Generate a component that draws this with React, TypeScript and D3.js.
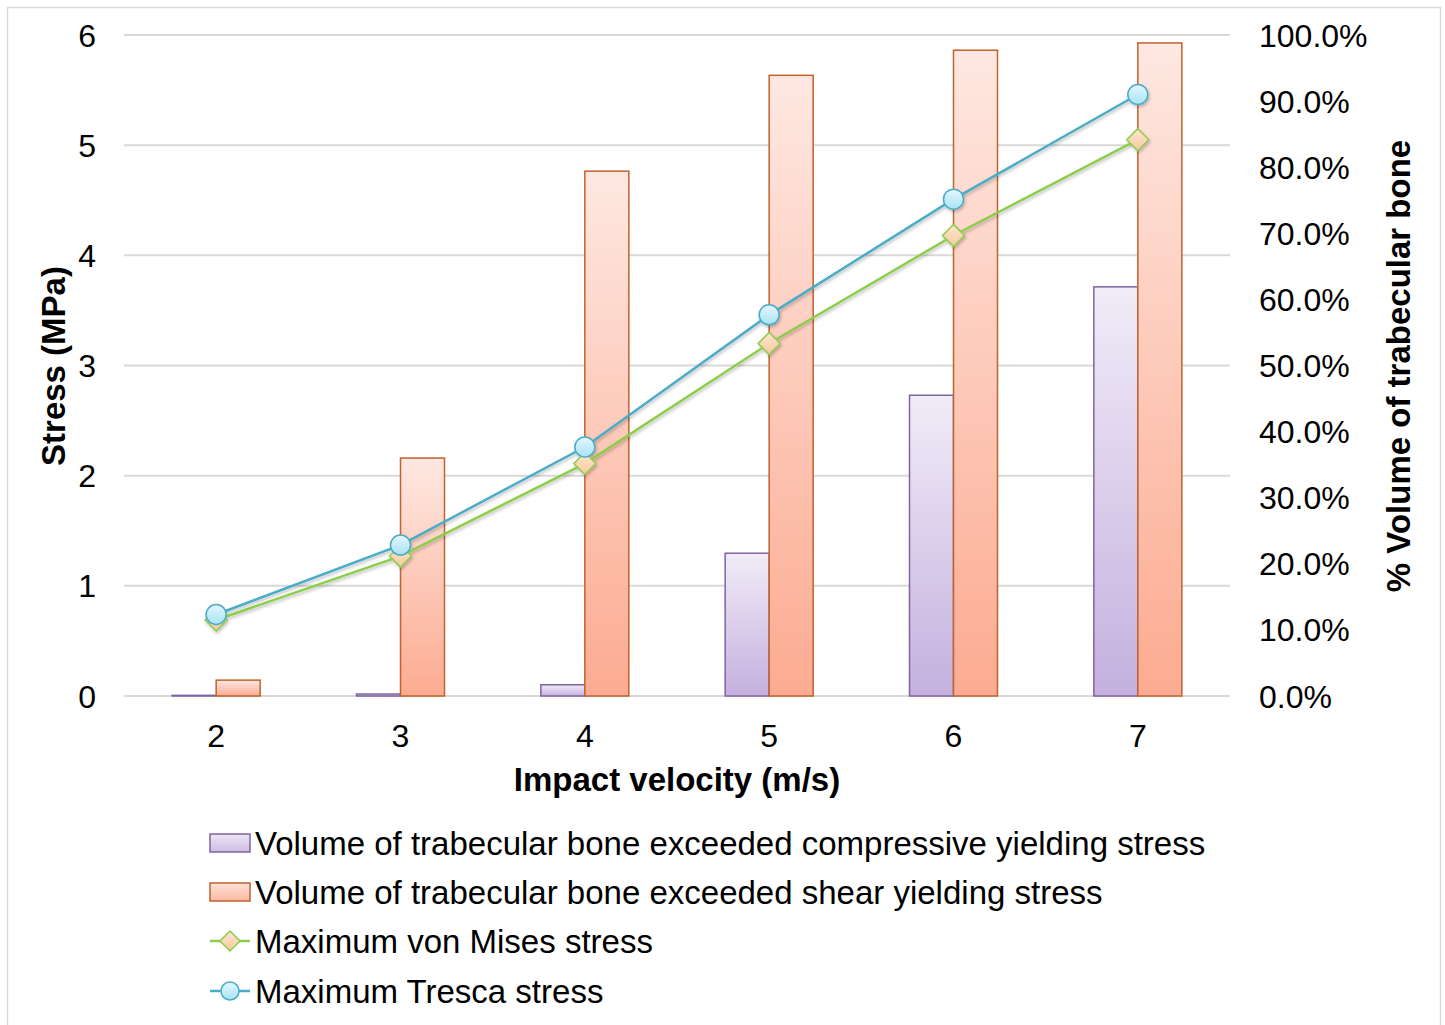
import React from "react";
import * as d3 from "d3";

const categories = ["2", "3", "4", "5", "6", "7"];
const compressivePct = [0.1, 0.3, 1.7, 21.6, 45.5, 61.9];
const shearPct = [2.4, 36.0, 79.4, 93.9, 97.7, 98.8];
const vonMises = [0.69, 1.27, 2.11, 3.2, 4.18, 5.05];
const tresca = [0.74, 1.37, 2.26, 3.46, 4.51, 5.46];
const leftTicks = [0, 1, 2, 3, 4, 5, 6];
const rightTicks = [0, 10, 20, 30, 40, 50, 60, 70, 80, 90, 100];
const legendLabels = [
  "Volume of trabecular bone exceeded compressive yielding stress",
  "Volume of trabecular bone exceeded shear yielding stress",
  "Maximum von Mises stress",
  "Maximum Tresca stress",
];

const FONT = "'Liberation Sans', Arial, sans-serif";

export default function App() {
  const left = 124;
  const right = 1230;
  const top = 35;
  const bottom = 696;

  const x = d3.scaleBand().domain(categories).range([left, right]).paddingInner(0).paddingOuter(0);
  const yL = d3.scaleLinear().domain([0, 6]).range([bottom, top]);
  const yR = d3.scaleLinear().domain([0, 100]).range([bottom, top]);
  const barW = 44;
  const cx = (c: string) => (x(c) as number) + x.bandwidth() / 2;

  const line = d3
    .line<number>()
    .x((_, i) => cx(categories[i]))
    .y((d) => yL(d));

  const diamond = (px: number, py: number, r: number) =>
    `M${px},${py - r}L${px + r},${py}L${px},${py + r}L${px - r},${py}Z`;

  const legendY = [843, 892, 941, 991];

  return (
    <svg
      width={1445}
      height={1025}
      style={{ position: "absolute", left: 0, top: 0, background: "#fff" }}
      fontFamily={FONT}
    >
      <defs>
        <linearGradient id="gPurple" x1="0" y1="0" x2="0" y2="1">
          <stop offset="0" stopColor="#f1ecf8" />
          <stop offset="1" stopColor="#c4b0de" />
        </linearGradient>
        <linearGradient id="gOrange" x1="0" y1="0" x2="0" y2="1">
          <stop offset="0" stopColor="#fee8e2" />
          <stop offset="1" stopColor="#fcab91" />
        </linearGradient>
        <linearGradient id="gPurpleL" x1="0" y1="0" x2="0" y2="1">
          <stop offset="0" stopColor="#ece5f5" />
          <stop offset="1" stopColor="#cdbde3" />
        </linearGradient>
        <linearGradient id="gOrangeL" x1="0" y1="0" x2="0" y2="1">
          <stop offset="0" stopColor="#fde2da" />
          <stop offset="1" stopColor="#fbb8a2" />
        </linearGradient>
        <linearGradient id="gCircle" x1="0" y1="0" x2="0" y2="1">
          <stop offset="0" stopColor="#e4f7fd" />
          <stop offset="1" stopColor="#a8e3f5" />
        </linearGradient>
        <linearGradient id="gDiamond" x1="0" y1="0" x2="0" y2="1">
          <stop offset="0" stopColor="#fde6cf" />
          <stop offset="1" stopColor="#f9c9a0" />
        </linearGradient>
        <filter id="shadow" x="-20%" y="-20%" width="140%" height="140%">
          <feDropShadow dx="1" dy="2" stdDeviation="1.5" floodColor="#000" floodOpacity="0.25" />
        </filter>
      </defs>

      <rect x={7.5} y={7.5} width={1433} height={1030} fill="#fff" stroke="#d9d9d9" strokeWidth={1.5} />

      {/* gridlines */}
      {leftTicks.map((t) => (
        <line key={t} x1={left} x2={right} y1={yL(t)} y2={yL(t)} stroke="#d9d9d9" strokeWidth={2} />
      ))}

      {/* bars */}
      {categories.map((c, i) => (
        <g key={c}>
          <rect
            x={cx(c) - barW}
            y={yR(compressivePct[i])}
            width={barW}
            height={bottom - yR(compressivePct[i])}
            fill="url(#gPurple)"
            stroke="#8064a2"
            strokeWidth={1.5}
          />
          <rect
            x={cx(c)}
            y={yR(shearPct[i])}
            width={barW}
            height={bottom - yR(shearPct[i])}
            fill="url(#gOrange)"
            stroke="#c0622c"
            strokeWidth={1.5}
          />
        </g>
      ))}

      {/* lines */}
      <g filter="url(#shadow)">
        <path d={line(vonMises) as string} fill="none" stroke="#8ccd4a" strokeWidth={2.5} />
        {vonMises.map((v, i) => (
          <path
            key={i}
            d={diamond(cx(categories[i]), yL(v), 11)}
            fill="url(#gDiamond)"
            stroke="#8ccd4a"
            strokeWidth={1.5}
          />
        ))}
        <path d={line(tresca) as string} fill="none" stroke="#4bacc6" strokeWidth={2.5} />
        {tresca.map((v, i) => (
          <circle
            key={i}
            cx={cx(categories[i])}
            cy={yL(v)}
            r={10}
            fill="url(#gCircle)"
            stroke="#4bacc6"
            strokeWidth={1.5}
          />
        ))}
      </g>

      {/* left ticks */}
      {leftTicks.map((t) => (
        <text key={t} x={96} y={yL(t) + 11.5} textAnchor="end" fontSize={32} fill="#000">
          {t}
        </text>
      ))}
      {/* right ticks */}
      {rightTicks.map((t) => (
        <text key={t} x={1259} y={yR(t) + 11.5} textAnchor="start" fontSize={32} fill="#000">
          {d3.format(".1f")(t) + "%"}
        </text>
      ))}
      {/* x ticks */}
      {categories.map((c) => (
        <text key={c} x={cx(c)} y={746.5} textAnchor="middle" fontSize={32} fill="#000">
          {c}
        </text>
      ))}

      {/* axis titles */}
      <text x={677} y={791} textAnchor="middle" fontSize={33} fontWeight="bold" fill="#000">
        Impact velocity (m/s)
      </text>
      <text
        transform={`translate(65,366) rotate(-90)`}
        textAnchor="middle"
        fontSize={33}
        fontWeight="bold"
        fill="#000"
      >
        Stress (MPa)
      </text>
      <text
        transform={`translate(1410,366) rotate(-90)`}
        textAnchor="middle"
        fontSize={33}
        fontWeight="bold"
        fill="#000"
      >
        % Volume of trabecular bone
      </text>

      {/* legend */}
      <rect x={210} y={legendY[0] - 9} width={40} height={18} fill="url(#gPurpleL)" stroke="#8064a2" strokeWidth={1.5} />
      <rect x={210} y={legendY[1] - 9} width={40} height={18} fill="url(#gOrangeL)" stroke="#c0622c" strokeWidth={1.5} />
      <line x1={210} x2={250} y1={legendY[2]} y2={legendY[2]} stroke="#8ccd4a" strokeWidth={2.5} />
      <path d={diamond(230, legendY[2], 10)} fill="url(#gDiamond)" stroke="#8ccd4a" strokeWidth={1.5} />
      <line x1={210} x2={250} y1={legendY[3]} y2={legendY[3]} stroke="#4bacc6" strokeWidth={2.5} />
      <circle cx={230} cy={legendY[3]} r={9} fill="url(#gCircle)" stroke="#4bacc6" strokeWidth={1.5} />
      {legendLabels.map((l, i) => (
        <text key={l} x={255} y={legendY[i] + 11.5} fontSize={33} fill="#000">
          {l}
        </text>
      ))}
    </svg>
  );
}
